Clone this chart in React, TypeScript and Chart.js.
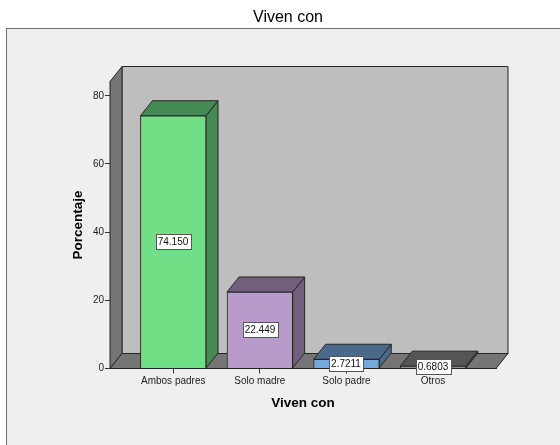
import React, { useEffect, useRef } from "react";
import { Chart, registerables } from "chart.js";

Chart.register(...registerables);

const categories = ["Ambos padres", "Solo madre", "Solo padre", "Otros"];
const valueLabels = ["74.150", "22.449", "2.7211", "0.6803"];
const values = valueLabels.map(Number);
const frontColors = ["#70DF85", "#B89ACB", "#75A8DC", "#8C8C8C"];
const sideColors = ["#458A52", "#725E7D", "#4A6A8B", "#555555"];
const yTicks = [0, 20, 40, 60, 80];

const FONT = "'Liberation Sans', Arial, sans-serif";
const DEPTH_X = 12;
const DEPTH_Y = 15;
const EDGE = "#262626";

function poly(ctx: CanvasRenderingContext2D, pts: number[][], fill: string, stroke = EDGE) {
  ctx.beginPath();
  pts.forEach(([x, y], i) => (i ? ctx.lineTo(x, y) : ctx.moveTo(x, y)));
  ctx.closePath();
  ctx.fillStyle = fill;
  ctx.fill();
  ctx.lineWidth = 1;
  ctx.strokeStyle = stroke;
  ctx.stroke();
}

// Outer panel behind the whole plot; the heading sits centred over the panel
const panelPlugin = {
  id: "panel",
  afterLayout(chart: any) {
    const block = chart.titleBlock;
    block.left -= 15;
    block.right -= 15;
  },
  beforeDraw(chart: any) {
    const { ctx, width, height } = chart;
    ctx.save();
    ctx.fillStyle = "#FFFFFF";
    ctx.fillRect(0, 0, width, height);
    ctx.fillStyle = "#EFEFEF";
    ctx.fillRect(6.5, 28.5, width, height);
    ctx.strokeStyle = "#6E6E6E";
    ctx.lineWidth = 1;
    ctx.strokeRect(6.5, 28.5, width, height);
    ctx.restore();
  },
};

// Box walls, floor and the side and top faces of each bar
const boxPlugin = {
  id: "box3d",
  beforeDatasetsDraw(chart: any) {
    const { ctx, chartArea: a } = chart;
    const dx = DEPTH_X;
    const dy = DEPTH_Y;
    ctx.save();
    poly(ctx, [[a.left + dx, a.top - dy], [a.right + dx, a.top - dy], [a.right + dx, a.bottom - dy], [a.left + dx, a.bottom - dy]], "#BEBEBE");
    poly(ctx, [[a.left, a.top], [a.left + dx, a.top - dy], [a.left + dx, a.bottom - dy], [a.left, a.bottom]], "#757575");
    poly(ctx, [[a.left, a.bottom], [a.left + dx, a.bottom - dy], [a.right + dx, a.bottom - dy], [a.right, a.bottom]], "#757575");
    chart.getDatasetMeta(0).data.forEach((bar: any, i: number) => {
      const l = bar.x - bar.width / 2;
      const r = bar.x + bar.width / 2;
      const t = bar.y;
      const b = bar.base;
      poly(ctx, [[r, t], [r + dx, t - dy], [r + dx, b - dy], [r, b]], sideColors[i]);
      poly(ctx, [[l, t], [l + dx, t - dy], [r + dx, t - dy], [r, t]], sideColors[i]);
    });
    ctx.restore();
  },
  // Boxed value label in the middle of each front face
  afterDatasetsDraw(chart: any) {
    const { ctx } = chart;
    ctx.save();
    ctx.font = `10px ${FONT}`;
    ctx.textAlign = "center";
    ctx.textBaseline = "middle";
    chart.getDatasetMeta(0).data.forEach((bar: any, i: number) => {
      const cy = Math.round((bar.y + bar.base) / 2);
      const cx = Math.round(bar.x);
      const w = Math.ceil(ctx.measureText(valueLabels[i]).width) + 4;
      const x = Math.round(cx - w / 2) + 0.5;
      ctx.fillStyle = "#FFFFFF";
      ctx.fillRect(x, cy - 8 + 0.5, w, 15);
      ctx.strokeStyle = "#555555";
      ctx.lineWidth = 1;
      ctx.strokeRect(x, cy - 8 + 0.5, w, 15);
      ctx.fillStyle = "#111111";
      ctx.fillText(valueLabels[i], cx, cy + 0.5);
    });
    ctx.restore();
  },
};

export default function App() {
  const ref = useRef<HTMLCanvasElement>(null);
  useEffect(() => {
    const chart = new Chart(ref.current!, {
      type: "bar",
      data: {
        datasets: [
          {
            data: values.map((y, x) => ({ x, y })),
            backgroundColor: frontColors,
            borderColor: EDGE,
            borderWidth: 1,
            barThickness: 65.6,
          } as any,
        ],
      },
      options: {
        animation: false,
        responsive: false,
        devicePixelRatio: 1,
        layout: { padding: { left: 0, right: 64, top: 0, bottom: 0 } },
        plugins: {
          legend: { display: false },
          tooltip: { enabled: false },
          title: {
            display: true,
            text: "Viven con",
            fullSize: false,
            color: "#000000",
            font: { family: FONT, size: 16, weight: "normal" },
            padding: { top: 8, bottom: 54.3 },
          },
        },
        scales: {
          x: {
            type: "linear",
            offset: false,
            min: -0.73,
            max: 3.727,
            afterBuildTicks(scale: any) {
              scale.ticks = categories.map((_, value) => ({ value }));
            },
            afterFit(scale: any) {
              scale.height = 76.5;
            },
            border: { color: EDGE },
            grid: { offset: false, drawOnChartArea: false, tickLength: 5, tickColor: "#333333" },
            ticks: {
              includeBounds: false,
              maxRotation: 0,
              autoSkip: false,
              padding: 2,
              color: "#222222",
              font: { family: FONT, size: 10 },
              callback: (v: any) => categories[v as number],
            },
            title: {
              display: true,
              text: "Viven con",
              color: "#000000",
              font: { family: FONT, size: 13.5, weight: "bold" },
              padding: { top: 8, bottom: 34 },
            },
          },
          y: {
            type: "linear",
            min: 0,
            max: 84.2,
            afterBuildTicks(scale: any) {
              scale.ticks = yTicks.map((value) => ({ value }));
            },
            afterFit(scale: any) {
              scale.width = 110;
            },
            border: { color: EDGE },
            grid: { drawOnChartArea: false, tickLength: 5, tickColor: "#333333" },
            ticks: {
              includeBounds: false,
              padding: 1,
              color: "#222222",
              font: { family: FONT, size: 10 },
            },
            title: {
              display: true,
              text: "Porcentaje",
              color: "#000000",
              font: { family: FONT, size: 13.5, weight: "bold" },
              padding: { top: 70, bottom: 0 },
            },
          },
        },
      },
      plugins: [panelPlugin, boxPlugin],
    } as any);
    return () => chart.destroy();
  }, []);
  return (
    <canvas
      ref={ref}
      width={560}
      height={445}
      style={{ position: "fixed", left: 0, top: 0, display: "block" }}
    />
  );
}
